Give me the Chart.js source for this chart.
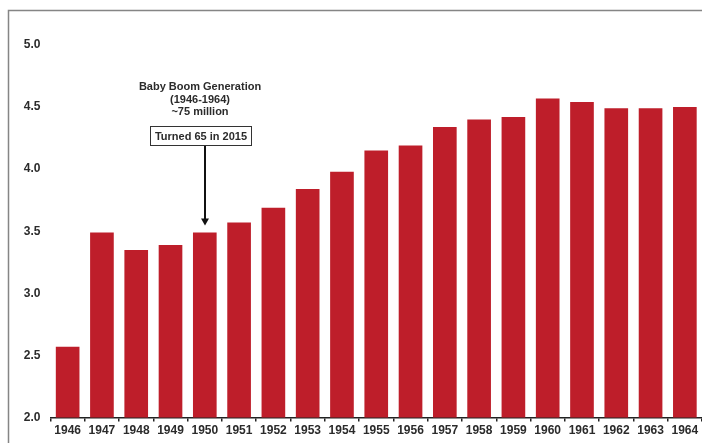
<!DOCTYPE html>
<html>
<head>
<meta charset="utf-8">
<script src="https://cdn.jsdelivr.net/npm/chart.js@4.4.1/dist/chart.umd.min.js"></script>
<style>
  html, body { margin: 0; padding: 0; background: #fff; overflow: hidden; }
  #wrap { width: 702px; height: 443px; position: relative; }
</style>
</head>
<body>
<div id="wrap"><canvas id="birthsChart"></canvas></div>
<script>
// Datos (millones de nacimientos)
const years = ['1946', '1947', '1948', '1949', '1950', '1951', '1952', '1953', '1954', '1955',
  '1956', '1957', '1958', '1959', '1960', '1961', '1962', '1963', '1964'];
const births = [2.57, 3.49, 3.35, 3.39, 3.49, 3.57, 3.69, 3.84, 3.98, 4.15,
  4.19, 4.34, 4.40, 4.42, 4.57, 4.54, 4.49, 4.49, 4.50];
const yTicks = [2.0, 2.5, 3.0, 3.5, 4.0, 4.5, 5.0];

// Texto de la anotacion
const noteLines = ['Baby Boom Generation', '(1946-1964)', '~75 million'];
const noteBox = 'Turned 65 in 2015';
const arrowYear = '1950';

const FONT = '"Liberation Sans", Arial, sans-serif';
const TEXT_COLOR = '#2b2b2b';

// ------------------------ MARCO Y ANOTACION ------------------------
const framePlugin = {
  id: 'frame',
  beforeDraw(chart) {
    const ctx = chart.ctx;
    ctx.save();
    ctx.strokeStyle = '#858585';
    ctx.lineWidth = 1.5;
    ctx.beginPath();
    ctx.moveTo(8.5, chart.height);
    ctx.lineTo(8.5, 10.5);
    ctx.lineTo(chart.width, 10.5);
    ctx.stroke();
    ctx.restore();
  }
};

const notePlugin = {
  id: 'note',
  afterDraw(chart) {
    const ctx = chart.ctx;
    const x = chart.scales.x;
    const y = chart.scales.y;
    ctx.save();
    ctx.fillStyle = TEXT_COLOR;
    ctx.font = 'bold 11px ' + FONT;
    ctx.textAlign = 'center';
    ctx.textBaseline = 'middle';
    noteLines.forEach((line, i) => {
      ctx.fillText(line, 200, 87 + i * 12.5);
    });

    // caja
    ctx.strokeStyle = '#333';
    ctx.lineWidth = 1;
    ctx.fillStyle = '#fff';
    ctx.fillRect(150.5, 126.5, 101, 19);
    ctx.strokeRect(150.5, 126.5, 101, 19);
    ctx.fillStyle = TEXT_COLOR;
    ctx.fillText(noteBox, 201, 136.5);

    // flecha hacia la barra
    const idx = years.indexOf(arrowYear);
    const ax = Math.round(x.getPixelForValue(idx));
    const tip = y.getPixelForValue(births[idx]) - 7;
    ctx.strokeStyle = '#111';
    ctx.fillStyle = '#111';
    ctx.lineWidth = 2;
    ctx.beginPath();
    ctx.moveTo(ax, 146);
    ctx.lineTo(ax, tip - 6);
    ctx.stroke();
    ctx.beginPath();
    ctx.moveTo(ax - 4, tip - 7);
    ctx.lineTo(ax + 4, tip - 7);
    ctx.lineTo(ax, tip);
    ctx.closePath();
    ctx.fill();
    ctx.restore();
  }
};

const ctx = document.getElementById('birthsChart').getContext('2d');
new Chart(ctx, {
  type: 'bar',
  data: {
    labels: years,
    datasets: [{
      data: births,
      backgroundColor: '#be1e2a',
      borderWidth: 0,
      barPercentage: 0.69,
      categoryPercentage: 1.0
    }]
  },
  options: {
    responsive: true,
    maintainAspectRatio: false,
    animation: false,
    layout: { padding: { top: 45, left: 0, right: 0, bottom: 0 } },
    plugins: {
      legend: { display: false },
      title: { display: false },
      tooltip: { enabled: false }
    },
    scales: {
      x: {
        grid: {
          display: true,
          drawOnChartArea: false,
          drawTicks: true,
          tickLength: 4,
          color: '#222',
          lineWidth: 1.5
        },
        border: { display: true, color: '#222', width: 1.5 },
        ticks: {
          color: TEXT_COLOR,
          padding: 2,
          maxRotation: 0,
          autoSkip: false,
          font: { family: FONT, size: 12, weight: 'bold' }
        },
        afterFit(scale) { scale.height = 25.5; }
      },
      y: {
        min: 2,
        max: 5,
        grid: { display: false, drawTicks: false },
        border: { display: false },
        afterBuildTicks(scale) {
          scale.ticks = yTicks.map(v => ({ value: v }));
        },
        ticks: {
          color: TEXT_COLOR,
          padding: 10,
          font: { family: FONT, size: 12, weight: 'bold' },
          callback: v => Number(v).toFixed(1)
        },
        afterFit(scale) { scale.width = 50.5; }
      }
    }
  },
  plugins: [framePlugin, notePlugin]
});
</script>
</body>
</html>
